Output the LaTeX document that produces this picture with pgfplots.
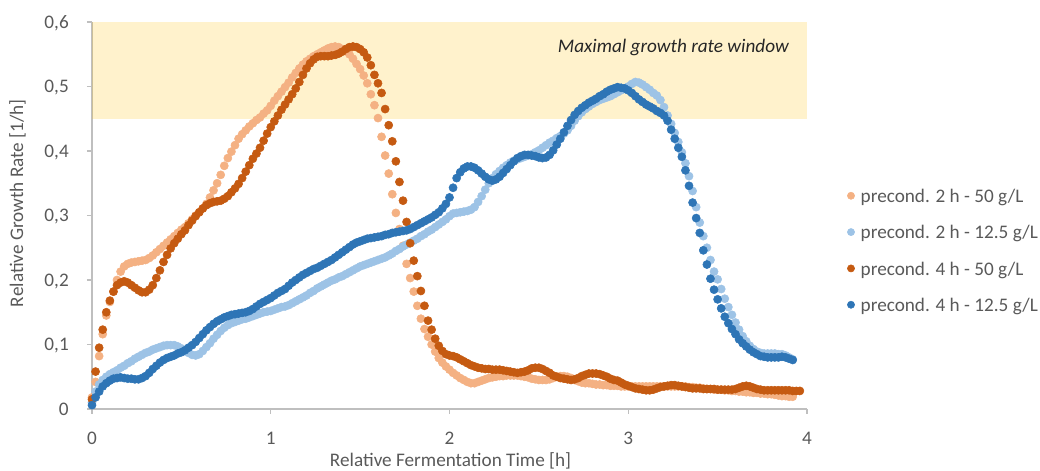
\documentclass[border=0pt]{standalone}
\usepackage{fontspec}
\setmainfont{Carlito}
\usepackage{pgfplots}
\usepackage{pgfplotstable}
\pgfplotsset{compat=1.18}
\definecolor{cA}{HTML}{F4B183}
\definecolor{cB}{HTML}{9DC3E6}
\definecolor{cC}{HTML}{C55A11}
\definecolor{cD}{HTML}{2E75B6}
\definecolor{txt}{HTML}{595959}
\definecolor{axl}{HTML}{BFBFBF}
\definecolor{band}{HTML}{FFC000}
\newcommand\f{\fontsize{14.4pt}{17pt}\selectfont}

\pgfplotstableread{
t A B C D
0.00 .018 .010 .015 .006
0.02 .042 .027 .058 .018
0.04 .082 .038 .095 .027
0.06 .116 .045 .123 .035
0.08 .145 .050 .150 .040
0.10 .166 .054 .168 .044
0.12 .182 .057 .182 .047
0.14 .200 .060 .192 .048
0.16 .213 .064 .196 .049
0.18 .221 .067 .198 .048
0.20 .225 .071 .196 .047
0.22 .227 .074 .192 .047
0.24 .228 .078 .188 .046
0.26 .229 .081 .184 .046
0.28 .230 .084 .181 .048
0.30 .231 .087 .181 .051
0.32 .234 .089 .185 .056
0.34 .238 .092 .192 .062
0.36 .243 .094 .203 .067
0.38 .248 .096 .215 .072
0.40 .253 .098 .228 .076
0.42 .258 .099 .239 .079
0.44 .263 .099 .249 .081
0.46 .268 .099 .257 .083
0.48 .273 .097 .264 .086
0.50 .278 .094 .271 .088
0.52 .282 .090 .277 .091
0.54 .288 .087 .285 .095
0.56 .294 .084 .292 .099
0.58 .300 .083 .299 .104
0.60 .305 .085 .305 .110
0.62 .311 .090 .311 .116
0.64 .318 .096 .316 .122
0.66 .328 .102 .319 .127
0.68 .339 .109 .321 .132
0.70 .350 .115 .322 .136
0.72 .363 .121 .323 .139
0.74 .377 .126 .326 .142
0.76 .389 .130 .330 .144
0.78 .399 .133 .336 .146
0.80 .409 .135 .342 .147
0.82 .419 .137 .349 .148
0.84 .426 .139 .358 .149
0.86 .432 .140 .368 .150
0.88 .438 .142 .378 .152
0.90 .443 .144 .388 .155
0.92 .448 .146 .396 .159
0.94 .452 .148 .405 .163
0.96 .458 .150 .416 .166
0.98 .463 .151 .427 .169
1.00 .470 .152 .437 .172
1.02 .478 .154 .446 .176
1.04 .485 .156 .455 .180
1.06 .492 .158 .464 .183
1.08 .499 .159 .472 .186
1.10 .506 .161 .480 .191
1.12 .514 .164 .488 .196
1.14 .521 .167 .497 .200
1.16 .528 .170 .507 .204
1.18 .534 .173 .518 .208
1.20 .539 .176 .528 .211
1.22 .543 .180 .536 .214
1.24 .547 .183 .542 .217
1.26 .550 .187 .546 .219
1.28 .553 .190 .547 .222
1.30 .556 .193 .547 .225
1.32 .559 .196 .547 .228
1.34 .561 .199 .548 .231
1.36 .562 .201 .549 .235
1.38 .561 .204 .551 .239
1.40 .558 .206 .554 .243
1.42 .555 .209 .558 .247
1.44 .550 .212 .561 .251
1.46 .543 .215 .562 .255
1.48 .535 .218 .561 .258
1.50 .527 .221 .558 .260
1.52 .517 .223 .553 .262
1.54 .505 .225 .545 .264
1.56 .488 .227 .533 .265
1.58 .471 .229 .518 .266
1.60 .451 .231 .505 .267
1.62 .422 .233 .490 .268
1.64 .393 .235 .465 .270
1.66 .365 .238 .440 .271
1.68 .333 .241 .415 .273
1.70 .304 .245 .384 .274
1.72 .279 .248 .352 .275
1.74 .253 .252 .323 .276
1.76 .225 .255 .290 .277
1.78 .203 .258 .257 .279
1.80 .182 .261 .230 .282
1.82 .160 .264 .206 .285
1.84 .140 .268 .183 .288
1.86 .124 .271 .160 .291
1.88 .112 .275 .137 .294
1.90 .100 .278 .123 .297
1.92 .089 .282 .109 .301
1.94 .079 .286 .098 .305
1.96 .072 .290 .090 .311
1.98 .066 .294 .085 .318
2.00 .061 .299 .083 .328
2.02 .056 .303 .082 .343
2.04 .052 .304 .080 .358
2.06 .048 .305 .077 .367
2.08 .045 .306 .074 .373
2.10 .042 .307 .071 .376
2.12 .040 .309 .068 .376
2.14 .040 .313 .066 .374
2.16 .042 .321 .064 .370
2.18 .044 .330 .063 .365
2.20 .046 .340 .062 .360
2.22 .048 .350 .062 .356
2.24 .049 .358 .061 .354
2.26 .050 .364 .061 .356
2.28 .051 .369 .061 .360
2.30 .051 .374 .060 .366
2.32 .052 .378 .059 .372
2.34 .052 .382 .058 .378
2.36 .052 .385 .057 .384
2.38 .052 .387 .056 .389
2.40 .051 .389 .057 .392
2.42 .050 .391 .058 .394
2.44 .049 .393 .060 .394
2.46 .047 .395 .063 .393
2.48 .046 .398 .064 .392
2.50 .045 .401 .064 .390
2.52 .045 .405 .062 .389
2.54 .045 .409 .059 .390
2.56 .046 .413 .056 .394
2.58 .048 .416 .052 .401
2.60 .050 .420 .050 .410
2.62 .051 .423 .048 .419
2.64 .051 .427 .047 .429
2.66 .050 .432 .046 .439
2.68 .048 .439 .045 .448
2.70 .045 .447 .046 .456
2.72 .043 .454 .048 .462
2.74 .041 .460 .051 .467
2.76 .040 .465 .053 .471
2.78 .040 .469 .055 .475
2.80 .039 .473 .055 .478
2.82 .038 .476 .055 .481
2.84 .038 .479 .054 .485
2.86 .037 .481 .052 .488
2.88 .037 .483 .050 .492
2.90 .036 .485 .047 .495
2.92 .036 .488 .045 .497
2.94 .036 .491 .044 .499
2.96 .035 .494 .041 .498
2.98 .035 .497 .038 .497
3.00 .035 .500 .036 .494
3.02 .035 .504 .034 .490
3.04 .035 .507 .032 .485
3.06 .035 .506 .031 .480
3.08 .035 .503 .030 .476
3.10 .035 .499 .029 .472
3.12 .035 .495 .029 .469
3.14 .035 .490 .030 .466
3.16 .035 .486 .032 .462
3.18 .035 .479 .034 .459
3.20 .035 .468 .035 .455
3.22 .035 .455 .036 .447
3.24 .035 .442 .037 .433
3.26 .035 .428 .037 .419
3.28 .035 .414 .036 .405
3.30 .035 .398 .035 .391
3.32 .035 .381 .034 .370
3.34 .034 .361 .033 .346
3.36 .034 .338 .032 .320
3.38 .033 .313 .032 .296
3.40 .033 .289 .032 .273
3.42 .032 .268 .031 .246
3.44 .031 .250 .031 .224
3.46 .031 .231 .031 .202
3.48 .030 .213 .031 .185
3.50 .030 .201 .030 .170
3.52 .030 .186 .030 .156
3.54 .029 .171 .030 .143
3.56 .029 .158 .030 .133
3.58 .028 .146 .030 .124
3.60 .028 .134 .031 .116
3.62 .027 .123 .033 .108
3.64 .027 .113 .035 .102
3.66 .026 .105 .036 .097
3.68 .026 .098 .035 .092
3.70 .025 .093 .033 .088
3.72 .025 .089 .031 .085
3.74 .024 .087 .030 .082
3.76 .024 .086 .029 .081
3.78 .023 .086 .029 .080
3.80 .023 .086 .029 .080
3.82 .022 .086 .029 .080
3.84 .021 .085 .029 .080
3.86 .020 .085 .029 .081
3.88 .020 .083 .029 .080
3.90 .019 .080 .029 .078
3.92 .019 .077 .028 .076
3.94 nan nan .028 nan
3.96 nan nan .028 nan
}\data

\begin{document}
\begin{tikzpicture}
\path[use as bounding box] (-69pt,-46.5pt) rectangle (711pt,306.75pt);
\begin{axis}[
  at={(0pt,0pt)}, anchor=south west,
  scale only axis, width=536.25pt, height=290.25pt,
  xmin=0, xmax=4, ymin=0, ymax=0.6,
  enlargelimits=false, clip=false,
  axis lines=left,
  axis line style={-, draw=axl, line width=1.1pt},
  tick align=outside, major tick length=3.75pt,
  tick style={draw=axl, line width=1.1pt},
  xtick={0,1,2,3,4},
  ytick={0,0.1,0.2,0.3,0.4,0.5,0.6},
  /pgf/number format/.cd, use comma, fixed, assume math mode=true, /pgfplots/.cd,
  tick label style={font=\f, text=txt},
  yticklabel style={anchor=base east, inner sep=0pt, xshift=-13.5pt, yshift=-4.55pt},
  xticklabel style={anchor=north, inner sep=0pt, yshift=-13.5pt},
  every axis x label/.style={at={(axis description cs:0.5014,0)}, anchor=base, yshift=-43pt, font=\f, text=txt, inner sep=0pt},
  every axis y label/.style={at={(axis description cs:0,0.532)}, xshift=-55.9pt, rotate=90, anchor=center, font=\f, text=txt, inner sep=0pt},
  xlabel={Relative Fermentation Time [h]},
  ylabel={Relative Growth Rate [1/h]},
  legend style={at={(axis description cs:1.0565,0.4102)}, anchor=west, draw=none, fill=none,
    inner sep=0pt, outer sep=0pt, row sep=9.25pt, column sep=3.6pt, font=\f, text=txt,
    nodes={inner sep=1pt, text height=13pt, text depth=3pt}},
  legend cell align=left,
  legend image code/.code={\draw[#1, mark size=2.7pt] plot coordinates {(0pt,0pt)};},
]
\addplot[only marks, mark=*, mark size=3.05pt, cA, mark options={draw=none, fill=cA}] table[x=t, y=A] {\data};
\addlegendentry{precond. 2 h - 50 g/L}
\addplot[only marks, mark=*, mark size=3.05pt, cB, mark options={draw=none, fill=cB}] table[x=t, y=B] {\data};
\addlegendentry{precond. 2 h - 12.5 g/L}
\addplot[only marks, mark=*, mark size=3.05pt, cC, mark options={draw=none, fill=cC}] table[x=t, y=C] {\data};
\addlegendentry{precond. 4 h - 50 g/L}
\addplot[only marks, mark=*, mark size=3.05pt, cD, mark options={draw=none, fill=cD}] table[x=t, y=D] {\data};
\addlegendentry{precond. 4 h - 12.5 g/L}
\fill[band, fill opacity=0.2] (axis cs:0,0.45) rectangle (axis cs:4,0.6);
\node[anchor=base east, inner sep=0pt, font=\f\itshape, text=black!85] at (axis cs:3.9,0.553) {Maximal growth rate window};
\end{axis}
\end{tikzpicture}
\end{document}
